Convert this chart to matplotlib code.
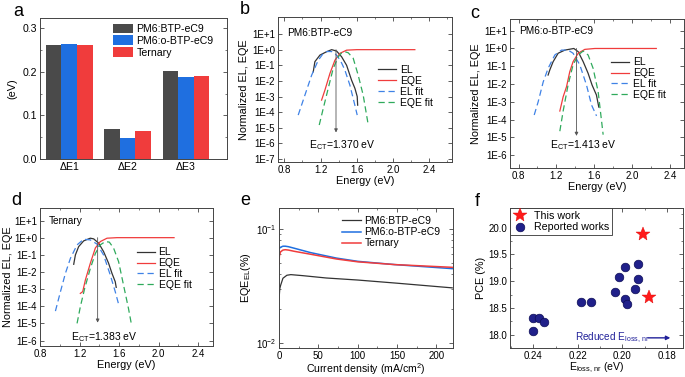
import numpy as np
import matplotlib
matplotlib.use('Agg')
import matplotlib.pyplot as plt
from matplotlib.ticker import FixedLocator, MultipleLocator, LogLocator, NullFormatter

plt.rcParams['font.family'] = ['Liberation Sans', 'DejaVu Sans']
plt.rcParams['mathtext.fontset'] = 'custom'
plt.rcParams['mathtext.rm'] = 'Liberation Sans'
plt.rcParams['mathtext.it'] = 'Liberation Sans:italic'
plt.rcParams['mathtext.default'] = 'regular'
plt.rcParams['axes.linewidth'] = 0.7
plt.rcParams['axes.edgecolor'] = '#444444'

# ---- panel a: energy loss components ----
loss_terms = ['ΔE1', 'ΔE2', 'ΔE3']
blend_names = ['PM6:BTP-eC9', 'PM6:o-BTP-eC9', 'Ternary']
loss_btp = [0.261, 0.069, 0.202]
loss_obtp = [0.263, 0.048, 0.188]
loss_ternary = [0.262, 0.064, 0.190]

# ---- panels b-d: EL / EQE spectra (energy in eV, normalized) ----
b_el_x = [1.119, 1.137, 1.193, 1.267, 1.322, 1.377, 1.432, 1.487, 1.542, 1.579, 1.604, 1.609]
b_el_y = [0.038, 0.17, 0.45, 0.74, 1.0, 0.81, 0.35, 0.10, 0.011, 0.0033, 0.001, 2.8e-4]
b_eqe_x = [1.211, 1.248, 1.303, 1.358, 1.413, 1.487, 1.60, 1.8, 2.0, 2.24]
b_eqe_y = [5.9e-4, 0.0026, 0.030, 0.21, 0.58, 0.93, 1.0, 1.0, 1.0, 1.0]
b_elfit_x = [0.953, 1.027, 1.101, 1.174, 1.222, 1.27, 1.32, 1.36, 1.395, 1.432, 1.468, 1.523, 1.578, 1.604]
b_elfit_y = [6.5e-5, 0.00123, 0.023, 0.21, 0.5, 0.76, 0.76, 0.56, 0.32, 0.14, 0.049, 0.0054, 2.8e-4, 6.5e-5]
b_eqefit_x = [1.185, 1.229, 1.284, 1.339, 1.395, 1.43, 1.468, 1.505, 1.56, 1.615, 1.67, 1.726]
b_eqefit_y = [1.5e-5, 1.7e-4, 0.0033, 0.063, 0.35, 0.6, 0.74, 0.63, 0.28, 0.023, 0.00123, 1.5e-5]

c_el_x = [1.113, 1.131, 1.166, 1.219, 1.29, 1.385, 1.431, 1.484, 1.536, 1.578, 1.624, 1.649]
c_el_y = [0.032, 0.062, 0.18, 0.54, 0.81, 1.0, 0.66, 0.18, 0.040, 0.0087, 0.0024, 5e-4]
c_eqe_x = [1.237, 1.272, 1.308, 1.342, 1.377, 1.431, 1.501, 1.607, 1.8, 2.0, 2.257]
c_eqe_y = [3.0e-4, 0.0019, 0.0071, 0.049, 0.18, 0.54, 0.89, 1.0, 1.0, 1.0, 1.0]
c_elfit_x = [0.966, 1.008, 1.061, 1.113, 1.184, 1.254, 1.325, 1.377, 1.448, 1.519, 1.572, 1.625]
c_elfit_y = [1.8e-4, 0.001, 0.013, 0.076, 0.43, 0.81, 0.81, 0.54, 0.12, 0.0087, 6.6e-4, 1.6e-4]
c_eqefit_x = [1.237, 1.272, 1.325, 1.377, 1.431, 1.484, 1.536, 1.589, 1.642, 1.695]
c_eqefit_y = [2.2e-5, 3.0e-4, 0.0093, 0.12, 0.43, 0.72, 0.43, 0.076, 0.0037, 1.4e-5]

d_el_x = [1.141, 1.158, 1.191, 1.242, 1.309, 1.343, 1.393, 1.443, 1.494, 1.528, 1.561, 1.571]
d_el_y = [0.028, 0.098, 0.30, 0.65, 0.93, 0.85, 0.48, 0.155, 0.032, 0.0083, 0.0027, 0.00126]
d_eqe_x = [1.208, 1.232, 1.259, 1.309, 1.36, 1.41, 1.478, 1.579, 1.8, 2.0, 2.156]
d_eqe_y = [5.6e-4, 7.1e-4, 0.0034, 0.032, 0.25, 0.59, 0.93, 1.0, 1.0, 1.0, 1.0]
d_elfit_x = [0.956, 1.007, 1.057, 1.108, 1.175, 1.242, 1.309, 1.377, 1.443, 1.511, 1.561, 1.602]
d_elfit_y = [5.2e-5, 7.1e-4, 0.0083, 0.063, 0.38, 0.81, 0.74, 0.42, 0.098, 0.0066, 7.1e-4, 9.3e-5]
d_eqefit_x = [1.175, 1.208, 1.252, 1.309, 1.36, 1.41, 1.46, 1.501, 1.544, 1.595, 1.645, 1.695, 1.723]
d_eqefit_y = [1e-5, 9.3e-5, 0.0011, 0.016, 0.12, 0.38, 0.59, 0.55, 0.25, 0.040, 0.0017, 7.4e-5, 1e-5]

ect_values = [1.370, 1.413, 1.383]

# ---- panel e: EQE_EL vs current density ----
e_btp_x = [0, 1, 2, 5, 10, 15, 30, 60, 100, 150, 220]
e_btp_y = [0.024, 0.030, 0.032, 0.037, 0.0393, 0.0398, 0.0390, 0.0372, 0.0357, 0.0335, 0.0305]
e_obtp_x = [0, 2, 5, 8, 12, 20, 40, 73, 100, 147, 220]
e_obtp_y = [0.067, 0.069, 0.0705, 0.0705, 0.0698, 0.0675, 0.062, 0.0555, 0.052, 0.0487, 0.0449]
e_tern_x = [0, 0.5, 2, 5, 8, 12, 20, 40, 73, 100, 147, 220]
e_tern_y = [0.049, 0.058, 0.0630, 0.0652, 0.0657, 0.0652, 0.0635, 0.060, 0.0545, 0.0515, 0.0487, 0.0461]

# ---- panel f: PCE vs non-radiative loss ----
this_eloss = [0.1905, 0.1879]
this_pce = [19.88, 18.71]
rep_eloss = [0.2403, 0.2403, 0.2373, 0.2353, 0.2184, 0.2141, 0.2031, 0.2013, 0.1990,
             0.1990, 0.1979, 0.1941, 0.1930, 0.1930]
rep_pce = [18.32, 18.07, 18.31, 18.23, 18.61, 18.61, 18.80, 19.07, 19.27,
           18.67, 18.57, 18.86, 19.05, 19.32]

W, H = 685, 377
C_DARK = '#4a4a4a'
C_BLUE = '#1f6fe0'
C_RED = '#f03c3c'
C_GREEN = '#2faa5c'
C_FITBLUE = '#3f82e6'
TICK = 7.0
LAB = 7.8
LEG = 7.5


def box(l, t, r, b):
    return [l / W, 1 - b / H, (r - l) / W, (b - t) / H]


def style_ticks(ax):
    ax.tick_params(which='both', direction='in', top=True, right=True,
                   labelsize=TICK, color='#444444', pad=2)
    ax.tick_params(which='major', length=3, width=0.6)
    ax.tick_params(which='minor', length=1.6, width=0.5)


def spectrum_panel(ax, xlim, ylog, data, ect, ect_tip, ect_text_y, name, name_y, leg_pos):
    el_x, el_y, eqe_x, eqe_y, elf_x, elf_y, eqf_x, eqf_y = data
    ax.set_yscale('log')
    ax.plot(el_x, el_y, color='#333333', lw=0.9, label='EL')
    ax.plot(eqe_x, eqe_y, color=C_RED, lw=0.9, label='EQE')
    ax.plot(elf_x, elf_y, color=C_FITBLUE, lw=0.9, ls=(0, (5, 3)), label='EL fit')
    ax.plot(eqf_x, eqf_y, color=C_GREEN, lw=0.9, ls=(0, (5, 3)), label='EQE fit')
    ax.annotate('', xy=(ect, ect_tip), xytext=(ect, 1.0),
                arrowprops=dict(arrowstyle='-|>', color='#555555', lw=0.6,
                                mutation_scale=5, shrinkA=0, shrinkB=0))
    ax.text(ect + 0.07, ect_text_y, 'E$_{CT}$=%.3f eV' % ect, fontsize=LEG,
            ha='center', va='center')
    ax.text(0.05, name_y, name, transform=ax.transAxes, fontsize=7.3,
            ha='left', va='center')
    ax.set_xlim(*xlim)
    ax.set_ylim(10 ** ylog[0], 10 ** ylog[1])
    lo = int(np.ceil(ylog[0]))
    decades = list(range(lo, 2))
    ax.yaxis.set_major_locator(FixedLocator([10.0 ** e for e in decades]))
    ax.set_yticklabels(['1E%+d' % e for e in decades])
    ax.yaxis.set_minor_locator(FixedLocator([]))
    ax.xaxis.set_major_locator(MultipleLocator(0.4))
    ax.xaxis.set_minor_locator(MultipleLocator(0.2))
    ax.set_xlabel('Energy (eV)', fontsize=LAB, labelpad=1)
    ax.set_ylabel('Normalized EL, EQE', fontsize=LAB, labelpad=2)
    style_ticks(ax)
    ax.legend(loc='center left', bbox_to_anchor=leg_pos, frameon=False,
              fontsize=LEG, borderaxespad=0, borderpad=0, handlelength=1.75,
              handletextpad=0.35, labelspacing=0.08)


fig = plt.figure(figsize=(W / 100, H / 100), dpi=100)

# a
ax = fig.add_axes(box(40, 18, 227, 159))
xpos = np.arange(1, len(loss_terms) + 1)
bw = 0.8 / 3
ax.bar(xpos - bw, loss_btp, bw, color=C_DARK, label=blend_names[0])
ax.bar(xpos, loss_obtp, bw, color=C_BLUE, label=blend_names[1])
ax.bar(xpos + bw, loss_ternary, bw, color=C_RED, label=blend_names[2])
ax.set_xlim(0.5, 3.7)
ax.set_ylim(0, 0.323)
ax.set_xticks(xpos)
ax.set_xticklabels(loss_terms)
ax.yaxis.set_major_locator(MultipleLocator(0.1))
ax.yaxis.set_minor_locator(MultipleLocator(0.05))
ax.set_ylabel('(eV)', fontsize=LAB, labelpad=4)
style_ticks(ax)
ax.tick_params(axis='both', labelsize=7.6)
ax.tick_params(axis='x', which='both', top=False, bottom=False)
ax.legend(loc='center left', bbox_to_anchor=(0.389, 0.84), frameon=False,
          fontsize=7.6, borderaxespad=0, borderpad=0, handlelength=1.9,
          handleheight=1.05, handletextpad=0.33, labelspacing=0.12)

# b, c, d
ax = fig.add_axes(box(278, 17, 452, 162))
spectrum_panel(ax, (0.73, 2.65), (-7.19, 2.09),
               (b_el_x, b_el_y, b_eqe_x, b_eqe_y, b_elfit_x, b_elfit_y, b_eqefit_x, b_eqefit_y),
               ect_values[0], 5e-6, 7.9e-7, 'PM6:BTP-eC9', 0.89, (0.576, 0.522))

ax = fig.add_axes(box(510, 19, 684, 168))
spectrum_panel(ax, (0.71, 2.55), (-6.73, 1.66),
               (c_el_x, c_el_y, c_eqe_x, c_eqe_y, c_elfit_x, c_elfit_y, c_eqefit_x, c_eqefit_y),
               ect_values[1], 1.2e-5, 3.6e-6, 'PM6:o-BTP-eC9', 0.917, (0.58, 0.60))

ax = fig.add_axes(box(40, 208, 213, 346))
spectrum_panel(ax, (0.8, 2.55), (-6.32, 1.73),
               (d_el_x, d_el_y, d_eqe_x, d_eqe_y, d_elfit_x, d_elfit_y, d_eqefit_x, d_eqefit_y),
               ect_values[2], 1.1e-5, 1.6e-6, 'Ternary', 0.907, (0.559, 0.56))
ax.yaxis.labelpad = 1

# e
ax = fig.add_axes(box(279, 208, 453, 348))
ax.set_yscale('log')
ax.plot(e_btp_x, e_btp_y, color='#333333', lw=0.9, label=blend_names[0])
ax.plot(e_obtp_x, e_obtp_y, color=C_BLUE, lw=1.1, label=blend_names[1])
ax.plot(e_tern_x, e_tern_y, color=C_RED, lw=1.1, label=blend_names[2])
ax.set_xlim(0, 221)
ax.set_ylim(0.0091, 0.152)
ax.xaxis.set_major_locator(MultipleLocator(50))
ax.xaxis.set_minor_locator(MultipleLocator(25))
ax.yaxis.set_major_locator(FixedLocator([0.01, 0.1]))
ax.yaxis.set_minor_locator(LogLocator(base=10, subs=np.arange(2, 10)))
ax.yaxis.set_minor_formatter(NullFormatter())
ax.set_xlabel('Current density (mA/cm$^2$)', fontsize=7.6, labelpad=0)
ax.set_ylabel('EQE$_{EL}$(%)', fontsize=LAB, labelpad=2)
style_ticks(ax)
ax.legend(loc='center left', bbox_to_anchor=(0.36, 0.827), frameon=False,
          fontsize=LEG, borderaxespad=0, borderpad=0, handlelength=1.9,
          handletextpad=0.3, labelspacing=0.12)

# f
ax = fig.add_axes(box(510, 208, 683, 348))
ax.plot(this_eloss, this_pce, ls='none', marker='*', ms=10.5, color='#ff1a1a',
        mec='#e00000', mew=0.3, label='This work', zorder=3)
ax.plot(rep_eloss, rep_pce, ls='none', marker='o', ms=6.2, mfc='#20208a',
        mec='#0c0c55', mew=0.5, label='Reported works', zorder=3)
ax.set_xlim(0.2505, 0.1727)
ax.set_ylim(17.75, 20.37)
ax.xaxis.set_major_locator(MultipleLocator(0.02))
ax.xaxis.set_minor_locator(MultipleLocator(0.01))
ax.yaxis.set_major_locator(MultipleLocator(0.5))
ax.yaxis.set_minor_locator(MultipleLocator(0.25))
ax.xaxis.set_major_formatter(plt.FuncFormatter(lambda v, p: '%.2f' % v))
ax.yaxis.set_major_formatter(plt.FuncFormatter(lambda v, p: '%.1f' % v))
ax.set_xlabel('E$_{loss,\\,nr}$ (eV)', fontsize=7.6, labelpad=0)
ax.set_ylabel('PCE (%)', fontsize=LAB, labelpad=2)
style_ticks(ax)
ax.text(0.2212, 17.94, 'Reduced E$_{loss,\\,nr}$', color='#22229a', fontsize=7.2,
        ha='left', va='center')
ax.annotate('', xy=(0.1784, 17.94), xytext=(0.1885, 17.94),
            arrowprops=dict(arrowstyle='-|>', color='#22229a', lw=1.0,
                            mutation_scale=6, shrinkA=0, shrinkB=0))
leg = ax.legend(loc='upper left', bbox_to_anchor=(0, 1), fontsize=7.7,
                borderaxespad=0, fancybox=False, edgecolor='#333333',
                handlelength=1.2, handletextpad=0.7, borderpad=0.3,
                labelspacing=0.1, framealpha=1)
leg.get_frame().set_linewidth(0.6)

# panel letters
for letter, px, py in [('a', 18, 12), ('b', 245, 10), ('c', 475, 13),
                       ('d', 16, 200), ('e', 245, 200), ('f', 477, 201)]:
    fig.text(px / W, 1 - py / H, letter, fontsize=13, ha='center', va='center')

fig.savefig('out.png', dpi=100)
